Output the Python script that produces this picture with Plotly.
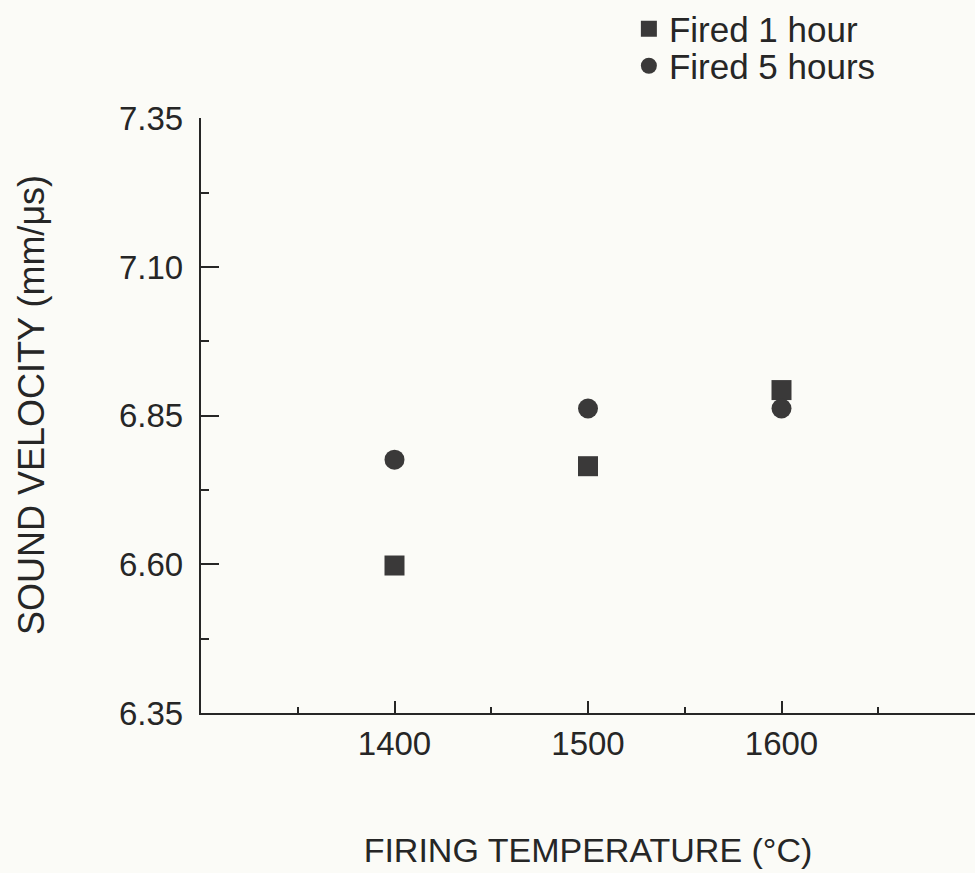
import plotly.graph_objects as go

temps = [1400, 1500, 1600]
fired_1h = [6.598, 6.765, 6.893]
fired_5h = [6.776, 6.862, 6.862]

x_ticks = [1400, 1500, 1600]
x_minor = [1350, 1450, 1550, 1650]
y_ticks = [6.35, 6.60, 6.85, 7.10, 7.35]
y_minor = [6.475, 6.725, 6.975, 7.225]

x_range = [1300, 1700]
y_range = [6.35, 7.3505]

ink = "#262626"
mark = "#3a3939"
bg = "#fbfbf7"
font = "Liberation Sans, Arial, sans-serif"
NB = "\u00a0"

fig = go.Figure()
fig.add_trace(go.Scatter(x=temps, y=fired_1h, mode="markers", name="Fired 1 hour",
                         marker=dict(symbol="square", size=20, color=mark), legend="legend"))
fig.add_trace(go.Scatter(x=temps, y=fired_5h, mode="markers", name="Fired 5 hours",
                         marker=dict(symbol="circle", size=20, color=mark), legend="legend2"))
# empty trace that carries the overlay axes used for the minor ticks
fig.add_trace(go.Scatter(x=[], y=[], xaxis="x2", yaxis="y2", showlegend=False, hoverinfo="skip"))

leg_common = dict(xref="container", yref="container", xanchor="left", yanchor="middle",
                  bgcolor="rgba(0,0,0,0)", font=dict(size=35, color=ink))

common_ax = dict(showgrid=False, zeroline=False, automargin=False, tickmode="array", ticks="inside")

fig.update_layout(
    width=975, height=873,
    margin=dict(l=201, r=0, t=118, b=160, autoexpand=False),
    paper_bgcolor=bg, plot_bgcolor=bg,
    font=dict(family=font, size=33, color=ink),
    showlegend=True,
    legend=dict(x=0.645, y=1 - 29 / 873, **leg_common),
    legend2=dict(x=0.645, y=1 - 66 / 873, **leg_common),
    annotations=[dict(text="SOUND VELOCITY (mm/μs)", textangle=-90,
                      xref="paper", yref="paper", x=(32 - 201) / 774, y=(713 - 405) / 595,
                      xanchor="center", yanchor="middle", showarrow=False,
                      font=dict(size=36, color=ink))],
    xaxis=dict(range=x_range, showline=True, linewidth=2, linecolor=ink,
               tickvals=x_ticks, ticktext=[str(v) for v in x_ticks],
               ticklen=12, tickwidth=2, tickcolor=ink,
               title=dict(text="FIRING TEMPERATURE (°C)", standoff=78, font=dict(size=34)),
               **common_ax),
    yaxis=dict(range=y_range, showline=True, linewidth=2, linecolor=ink,
               tickvals=y_ticks, ticktext=[f"{v:.2f}{NB}" for v in y_ticks],
               ticklen=18, tickwidth=2, tickcolor=ink, **common_ax),
    xaxis2=dict(range=x_range, overlaying="x", anchor="y2", side="bottom", showline=False,
                tickvals=x_minor, showticklabels=False,
                ticklen=6, tickwidth=2, tickcolor=ink, **common_ax),
    yaxis2=dict(range=y_range, overlaying="y", anchor="x2", side="left", showline=False,
                tickvals=y_minor, showticklabels=False,
                ticklen=8, tickwidth=2, tickcolor=ink, **common_ax),
)

fig.write_html("out.html")
